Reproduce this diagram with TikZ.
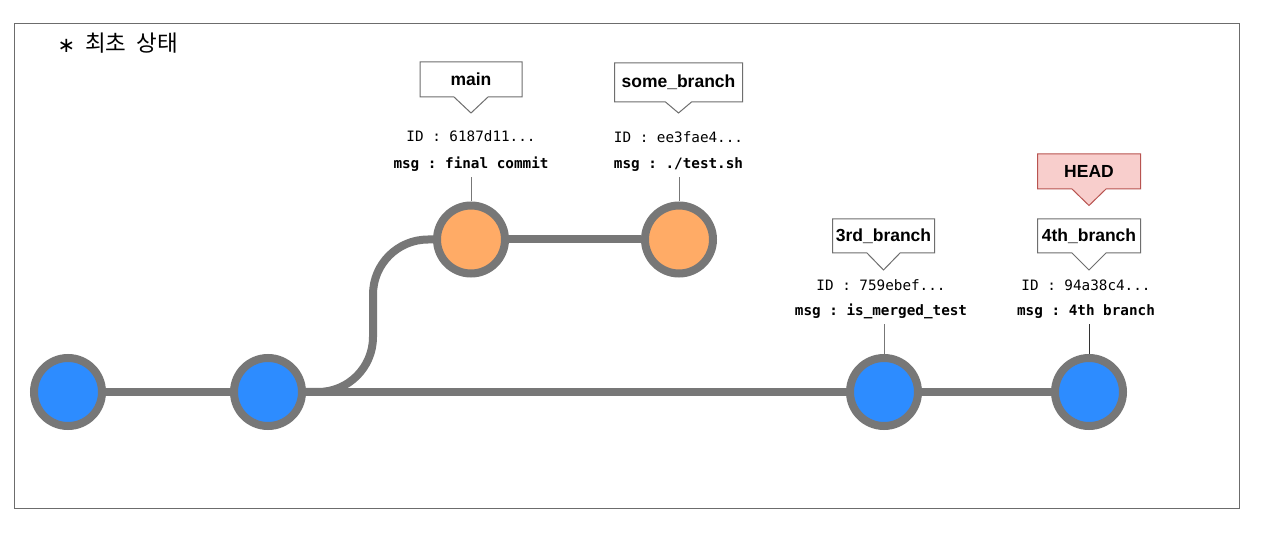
\documentclass[tikz,border=0pt]{standalone}
\usepackage{fontspec}
\setmainfont{Liberation Sans}
\newfontfamily\monof{DejaVu Sans Mono}
\newfontfamily\kor{Noto Sans CJK KR}
\newfontfamily\djv{DejaVu Sans}
\definecolor{edgec}{HTML}{777777}
\definecolor{bluef}{HTML}{2D8CFF}
\definecolor{orangef}{HTML}{FFAB66}
\definecolor{headf}{HTML}{F8CECC}
\definecolor{headd}{HTML}{B85450}
\definecolor{boxd}{HTML}{6E6E6E}
\frenchspacing
\tikzset{
  commit/.style={circle, draw=edgec, line width=8pt, minimum size=68pt, inner sep=0pt},
  branchline/.style={draw=edgec, line width=8pt},
  lbltext/.style={font=\bfseries\fontsize{17.5}{20}\selectfont, inner sep=0pt},
  calloutbox/.style={draw=boxd, line width=1pt, fill=white, line join=miter},
  headbox/.style={draw=headd, line width=1pt, fill=headf, line join=miter},
  idtxt/.style={font=\monof\fontsize{14.3}{16}\selectfont, inner sep=0pt, text height=10.5pt, text depth=3pt},
  msgtxt/.style={font=\monof\bfseries\fontsize{14.3}{16}\selectfont, inner sep=0pt, text height=10.5pt, text depth=3pt},
  tickline/.style={draw=edgec, line width=1pt},
}
% #1 name, #2 centre x, #3 top y, #4 width, #5 height, #6 pointer half-width, #7 tip y, #8 text, #9 style
\newcommand{\mycallout}[9]{%
  \draw[#9] (#2-#4/2,#3) -- (#2+#4/2,#3) -- (#2+#4/2,#3+#5) -- (#2+#6,#3+#5) -- (#2,#7) -- (#2-#6,#3+#5) -- (#2-#4/2,#3+#5) -- cycle;
  \node[lbltext] (#1) at (#2,#3+#5/2) {#8};
  \coordinate (#1tip) at (#2,#7);
}
\begin{document}
\begin{tikzpicture}[x=1pt,y=-1pt]
\useasboundingbox (0,0) rectangle (1262,537);
\fill[white] (0,0) rectangle (1262,537);
\draw[draw=gray!85!black, line width=1pt] (14.5,23.5) rectangle (1239,508);

% title
\node[font=\djv\fontsize{21}{24}\selectfont, inner sep=0pt] (ast) at (66.5,46) {∗};
\node[font=\kor\fontsize{22.5}{26}\selectfont, inner sep=0pt, anchor=west] (ttl) at (85,43) {최초\hspace{10pt}상태};

% commits
\node[commit, fill=bluef] (c1) at (68,392) {};
\node[commit, fill=bluef] (c2) at (268,392) {};
\node[commit, fill=bluef] (c3) at (884,392) {};
\node[commit, fill=bluef] (c4) at (1089,392) {};
\node[commit, fill=orangef] (o1) at (471,239.5) {};
\node[commit, fill=orangef] (o2) at (679,239.5) {};

% branch lines
\draw[branchline] (c1) -- (c2);
\draw[branchline] (c2) -- (c3);
\draw[branchline] (c3) -- (c4);
\draw[branchline] (o1) -- (o2);
\draw[branchline, rounded corners=55pt] (c2.east) -- (373,392) -- (373,239.5) -- (o1.west);

% callouts
\mycallout{lmain}{471}{62}{102}{35}{17}{113}{main}{calloutbox}
\mycallout{lsome}{678.5}{63}{128}{39}{13}{113}{some\_branch}{calloutbox}
\mycallout{lthird}{883.5}{219}{102}{34}{16.5}{270}{3rd\_branch}{calloutbox}
\mycallout{lhead}{1089}{154}{103}{35}{17}{205.5}{HEAD}{headbox}
\mycallout{lfourth}{1089}{219}{103}{34}{17}{270}{4th\_branch}{calloutbox}

% commit texts
\node[idtxt] (id1) at (471,138) {ID : 6187d11...};
\node[msgtxt] (m1) at (471,165) {msg : final commit};
\node[idtxt] (id2) at (678.5,139) {ID : ee3fae4...};
\node[msgtxt] (m2) at (678.5,165) {msg : ./test.sh};
\node[idtxt] (id3) at (881,287) {ID : 759ebef...};
\node[msgtxt] (m3) at (881,312) {msg : is\_merged\_test};
\node[idtxt] (id4) at (1086,287) {ID : 94a38c4...};
\node[msgtxt] (m4) at (1086,312) {msg : 4th branch};

% ticks
\draw[tickline] ([yshift=-5.5pt]m1.south -| o1) -- (o1.north);
\draw[tickline] ([yshift=-5.5pt]m2.south -| o2) -- (o2.north);
\draw[tickline] ([yshift=-5.5pt]m3.south -| c3) -- (c3.north);
\draw[tickline, draw=black!80] ([yshift=-5.5pt]m4.south -| c4) -- (c4.north);
\end{tikzpicture}
\end{document}
